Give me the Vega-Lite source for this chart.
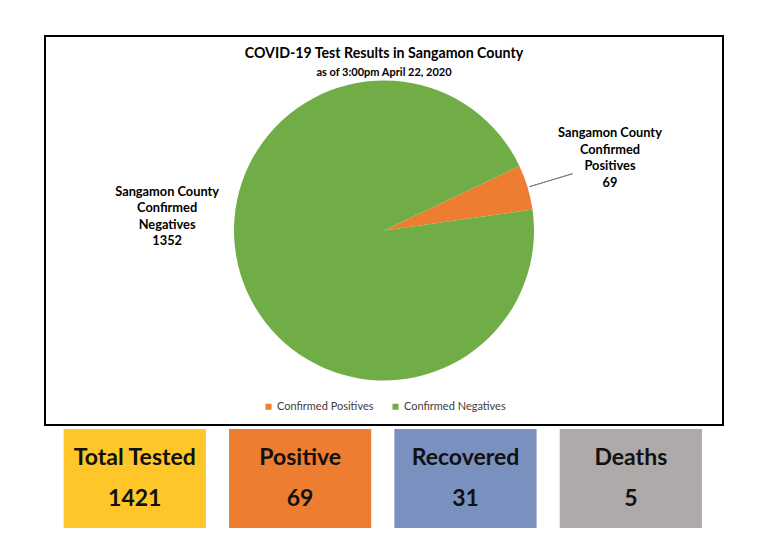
{
  "$schema": "https://vega.github.io/schema/vega-lite/v6.json",
  "padding": {"left": 44, "top": 32, "right": 0, "bottom": 0},
  "background": "white",
  "config": {"font": "Lato", "view": {"stroke": null}},
  "spacing": 0,
  "resolve": {"scale": {"color": "independent"}, "legend": {"color": "independent"}},
  "vconcat": [
    {
      "width": 678,
      "height": 389,
      "view": {"stroke": "black", "strokeWidth": 2},
      "title": {
        "text": "COVID-19 Test Results in Sangamon County",
        "subtitle": "as of 3:00pm April 22, 2020",
        "font": "Lato",
        "fontSize": 14.2,
        "fontWeight": "bold",
        "color": "#000",
        "subtitleFont": "Lato",
        "subtitleFontSize": 11,
        "subtitleFontWeight": "bold",
        "subtitleColor": "#000",
        "subtitlePadding": 5,
        "anchor": "middle",
        "offset": -44
      },
      "data": {
        "values": [
          {"category": "Confirmed Positives", "count": 69, "label": "Sangamon County\nConfirmed\nPositives\n69"},
          {"category": "Confirmed Negatives", "count": 1352, "label": "Sangamon County\nConfirmed\nNegatives\n1352"}
        ]
      },
      "layer": [
        {
          "mark": {"type": "arc", "radius": 150},
          "encoding": {
            "theta": {"field": "count", "type": "quantitative", "stack": true, "scale": {"range": [1.1257, 7.4089]}},
            "order": {"field": "category", "sort": "descending"},
            "color": {
              "field": "category",
              "type": "nominal",
              "scale": {"domain": ["Confirmed Positives", "Confirmed Negatives"], "range": ["#ED7D31", "#70AD47"]},
              "legend": {
                "title": null,
                "orient": "none",
                "legendX": 218,
                "legendY": 365,
                "direction": "horizontal",
                "symbolType": "square",
                "symbolSize": 36,
                "labelFontSize": 11,
                "labelColor": "#404040",
                "labelFont": "Lato",
                "labelOffset": 3,
                "columnPadding": 16
              }
            }
          }
        },
        {
          "mark": {"type": "arc", "radius": 197, "radius2": 152, "padAngle": 0.6, "fill": null, "stroke": "#7f7f7f", "strokeWidth": 1},
          "encoding": {
            "theta": {"field": "count", "type": "quantitative", "stack": true},
            "order": {"field": "category", "sort": "descending"},
            "detail": {"field": "category"},
            "strokeOpacity": {"condition": {"test": "datum.category === 'Confirmed Positives'", "value": 1}, "value": 0}
          }
        },
        {
          "mark": {"type": "text", "radius": 236, "dy": -29, "lineBreak": "\n", "lineHeight": 16.5, "fontSize": 12.8, "fontWeight": "bold", "font": "Lato", "color": "#000", "align": "center", "baseline": "middle"},
          "encoding": {
            "theta": {"field": "count", "type": "quantitative", "stack": true},
            "order": {"field": "category", "sort": "descending"},
            "detail": {"field": "category"},
            "text": {"condition": {"test": "datum.category === 'Confirmed Positives'", "field": "label"}, "value": ""}
          }
        },
        {
          "mark": {"type": "text", "radius": 215, "dx": -11, "dy": -101, "lineBreak": "\n", "lineHeight": 16.5, "fontSize": 12.8, "fontWeight": "bold", "font": "Lato", "color": "#000", "align": "center", "baseline": "middle"},
          "encoding": {
            "theta": {"field": "count", "type": "quantitative", "stack": true},
            "order": {"field": "category", "sort": "descending"},
            "detail": {"field": "category"},
            "text": {"condition": {"test": "datum.category === 'Confirmed Negatives'", "field": "label"}, "value": ""}
          }
        }
      ]
    },
    {
      "width": 678,
      "height": 99,
      "view": {"stroke": null},
      "data": {
        "values": [
          {"box": "Total Tested", "line": "label", "text": "Total Tested"},
          {"box": "Total Tested", "line": "value", "text": "1421"},
          {"box": "Positive", "line": "label", "text": "Positive"},
          {"box": "Positive", "line": "value", "text": "69"},
          {"box": "Recovered", "line": "label", "text": "Recovered"},
          {"box": "Recovered", "line": "value", "text": "31"},
          {"box": "Deaths", "line": "label", "text": "Deaths"},
          {"box": "Deaths", "line": "value", "text": "5"}
        ]
      },
      "encoding": {
        "x": {"field": "box", "type": "nominal", "sort": null, "axis": null, "scale": {"paddingInner": 0.14, "paddingOuter": 0.12, "align": 0.47}}
      },
      "layer": [
        {
          "transform": [{"filter": "datum.line === 'label'"}],
          "mark": {"type": "rect"},
          "encoding": {
            "color": {
              "field": "box",
              "type": "nominal",
              "scale": {"domain": ["Total Tested", "Positive", "Recovered", "Deaths"], "range": ["#FFC62A", "#ED7D31", "#7A90BF", "#AEAAAA"]},
              "legend": null
            }
          }
        },
        {
          "mark": {"type": "text", "fontSize": 23, "fontWeight": "bold", "font": "Lato", "color": "#111", "align": "center", "baseline": "middle"},
          "encoding": {
            "y": {"field": "line", "type": "nominal", "axis": null, "scale": {"type": "point", "domain": ["label", "value"], "padding": 0.7}},
            "text": {"field": "text"}
          }
        }
      ]
    }
  ]
}
